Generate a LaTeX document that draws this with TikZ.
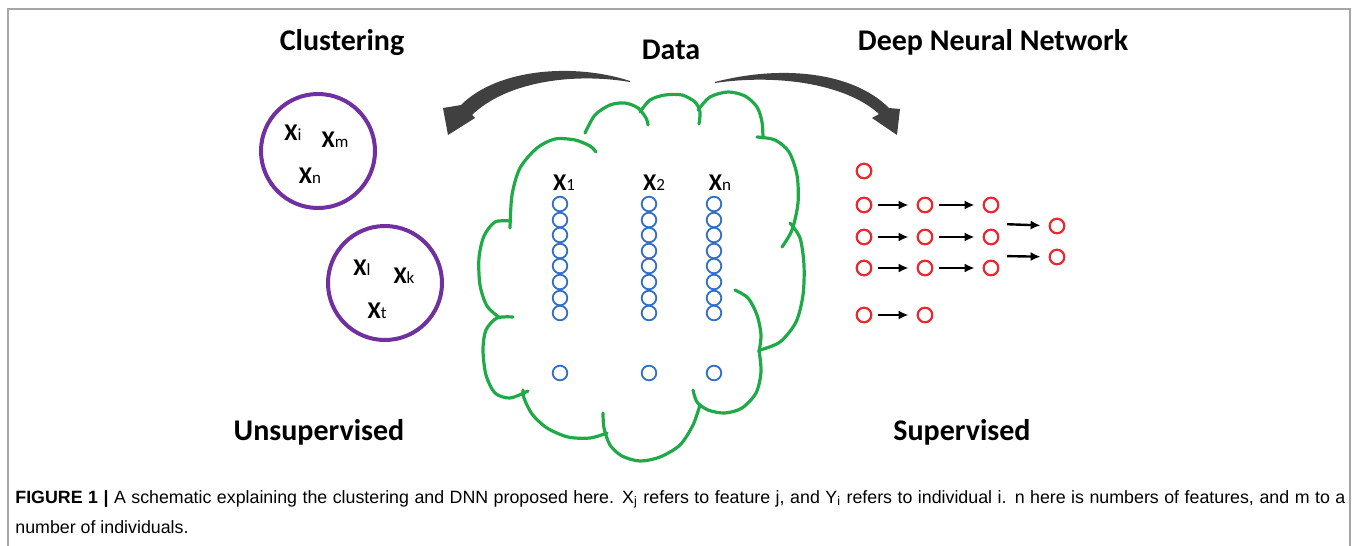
\documentclass[tikz,border=0pt]{standalone}
\usepackage{fontspec}
\setmainfont{Carlito}
\newfontfamily\capfont{Liberation Sans}
\usetikzlibrary{arrows.meta}
\definecolor{clusterpurple}{RGB}{112,48,160}
\definecolor{cloudgreen}{RGB}{30,170,70}
\definecolor{unitblue}{RGB}{50,110,200}
\definecolor{neuronred}{RGB}{235,40,50}
\definecolor{arrowgray}{RGB}{64,64,64}
\newcommand{\featx}[1]{\textbf{X}{\fontsize{8.5}{8.5}\selectfont #1}}

\begin{document}
\begin{tikzpicture}[x=0.5pt, y=-0.5pt,
  heading/.style={font=\bfseries\fontsize{15}{18}\selectfont, anchor=base, inner sep=0pt},
  cluster/.style={shape=circle, draw=clusterpurple, line width=2pt, minimum size=57pt, inner sep=0pt},
  feature/.style={font=\fontsize{12}{14}\selectfont, anchor=base, inner sep=0pt},
  unit/.style={shape=circle, draw=unitblue, line width=0.9pt, minimum size=7.3pt, inner sep=0pt},
  neuron/.style={shape=circle, draw=neuronred, line width=1.1pt, minimum size=7.3pt, inner sep=0pt},
  flow/.style={-{Latex[length=5pt,width=4.5pt]}, line width=1.2pt, shorten <=3pt, shorten >=4pt},
  cloudline/.style={draw=cloudgreen, line width=1.6pt, line cap=round, line join=round},
  bigarrow/.style={fill=arrowgray},
  caption/.style={font=\capfont\fontsize{8.9}{10}\selectfont, anchor=base west, inner sep=0pt}
]
\useasboundingbox (0,0) rectangle (1357,546);
% frame
\draw[gray!70, line width=1pt] (7.5,546) -- (7.5,8.5) -- (1350,8.5) -- (1350,546);

% headings
\node[heading] (clustering) at (342,50) {Clustering};
\node[heading] (data) at (671,60) {Data};
\node[heading] (dnn) at (993,50) {Deep Neural Network};
\node[heading] (unsup) at (319,440) {Unsupervised};
\node[heading] (sup) at (962,440) {Supervised};

% curved arrows out of the data
\path[bigarrow] (630,81) .. controls (575,63) and (498,68) .. (461,105)
  -- (443,108) -- (448,135) -- (475,118) -- (472,115)
  .. controls (505,83) and (570,72) .. (630,82) -- cycle;
\path[bigarrow] (715,82) .. controls (780,65) and (852,71) .. (889,108)
  -- (900,109) -- (897,135) -- (872,118) -- (879,114)
  .. controls (845,83) and (775,74) .. (715,83) -- cycle;

% clusters
\node[cluster] (cl1) at (318,151) {};
\node[cluster] (cl2) at (385,283) {};
\node[feature] (xi) at (293,140) {\featx{i}};
\node[feature] (xm) at (335,148) {\featx{m}};
\node[feature] (xn) at (310,183) {\featx{n}};
\node[feature] (xl) at (362,275) {\featx{l}};
\node[feature] (xk) at (404,283) {\featx{k}};
\node[feature] (xt) at (377,318) {\featx{t}};

% cloud
\draw[cloudline] plot[smooth] coordinates {(510,228) (512,195) (520,168) (537,148) (555,139) (575,140) (590,146) (596,152)};
\draw[cloudline] plot[smooth] coordinates {(585,133) (595,115) (610,105) (625,103) (638,108) (646,118) (648,125)};
\draw[cloudline] plot[smooth] coordinates {(640,112) (650,100) (665,95) (682,95) (695,102) (700,112) (699,124)};
\draw[cloudline] plot[smooth] coordinates {(698,110) (710,97) (728,92) (745,96) (757,107) (762,122) (763,138)};
\draw[cloudline] plot[smooth] coordinates {(757,137) (775,140) (789,152) (797,175) (798,203) (792,230) (782,247)};
\draw[cloudline] plot[smooth] coordinates {(790,223) (800,238) (804,265) (803,295) (796,322) (780,342) (760,350)};
\draw[cloudline] plot[smooth] coordinates {(735,290) (748,298) (757,315) (761,335) (759,352)};
\draw[cloudline] plot[smooth] coordinates {(759,350) (761,372) (756,393) (742,408) (725,413) (708,410) (697,402) (693,390)};
\draw[cloudline] plot[smooth] coordinates {(700,405) (693,425) (680,445) (660,457) (640,461) (622,456) (610,445) (604,428) (603,413)};
\draw[cloudline] plot[smooth] coordinates {(607,433) (590,438) (568,437) (547,428) (532,414) (524,398) (523,390)};
\draw[cloudline] plot[smooth] coordinates {(528,391) (510,398) (495,393) (486,375) (483,350) (486,330) (497,318) (513,317)};
\draw[cloudline] plot[smooth] coordinates {(500,318) (487,306) (480,285) (479,258) (484,236) (495,222) (510,221)};

% features in the data
\node[feature] (x1) at (564,190) {\featx{1}};
\node[feature] (x2) at (654,190) {\featx{2}};
\node[feature] (xnn) at (720,190) {\featx{n}};
\node[unit] (a1) at (560,204) {};
\node[unit] (a2) at (560,220) {};
\node[unit] (a3) at (560,235) {};
\node[unit] (a4) at (560,251) {};
\node[unit] (a5) at (560,266) {};
\node[unit] (a6) at (560,282) {};
\node[unit] (a7) at (560,298) {};
\node[unit] (a8) at (560,313) {};
\node[unit] (a9) at (560,373) {};
\node[unit] (b1) at (649,204) {};
\node[unit] (b2) at (649,220) {};
\node[unit] (b3) at (649,235) {};
\node[unit] (b4) at (649,251) {};
\node[unit] (b5) at (649,266) {};
\node[unit] (b6) at (649,282) {};
\node[unit] (b7) at (649,298) {};
\node[unit] (b8) at (649,313) {};
\node[unit] (b9) at (649,373) {};
\node[unit] (c1) at (714,204) {};
\node[unit] (c2) at (714,220) {};
\node[unit] (c3) at (714,235) {};
\node[unit] (c4) at (714,251) {};
\node[unit] (c5) at (714,266) {};
\node[unit] (c6) at (714,282) {};
\node[unit] (c7) at (714,298) {};
\node[unit] (c8) at (714,313) {};
\node[unit] (c9) at (714,373) {};

% network
\node[neuron] (i0) at (864,171) {};
\node[neuron] (i1) at (864,205) {};
\node[neuron] (i2) at (864,237) {};
\node[neuron] (i3) at (864,268) {};
\node[neuron] (i4) at (864,315) {};
\node[neuron] (h1) at (925,205) {};
\node[neuron] (h2) at (925,237) {};
\node[neuron] (h3) at (925,268) {};
\node[neuron] (h4) at (925,315) {};
\node[neuron] (g1) at (991,205) {};
\node[neuron] (g2) at (991,237) {};
\node[neuron] (g3) at (991,268) {};
\node[neuron] (o1) at (1057,226) {};
\node[neuron] (o2) at (1057,257) {};
\coordinate (j1) at (1001,224);
\coordinate (j2) at (1001,256);
\draw[flow] (i1) -- (h1);
\draw[flow] (i2) -- (h2);
\draw[flow] (i3) -- (h3);
\draw[flow] (i4) -- (h4);
\draw[flow] (h1) -- (g1);
\draw[flow] (h2) -- (g2);
\draw[flow] (h3) -- (g3);
\draw[flow] (j1) -- (o1);
\draw[flow] (j2) -- (o2);

% caption
\node[caption] (cap1) at (15,503) {\makebox[665pt][s]{\textbf{FIGURE 1 |} A schematic explaining the clustering and DNN proposed here. X\textsubscript{j} refers to feature j, and Y\textsubscript{i} refers to individual i. n here is numbers of features, and m to a}};
\node[caption] (cap2) at (15,533) {number of individuals.};
\end{tikzpicture}
\end{document}
